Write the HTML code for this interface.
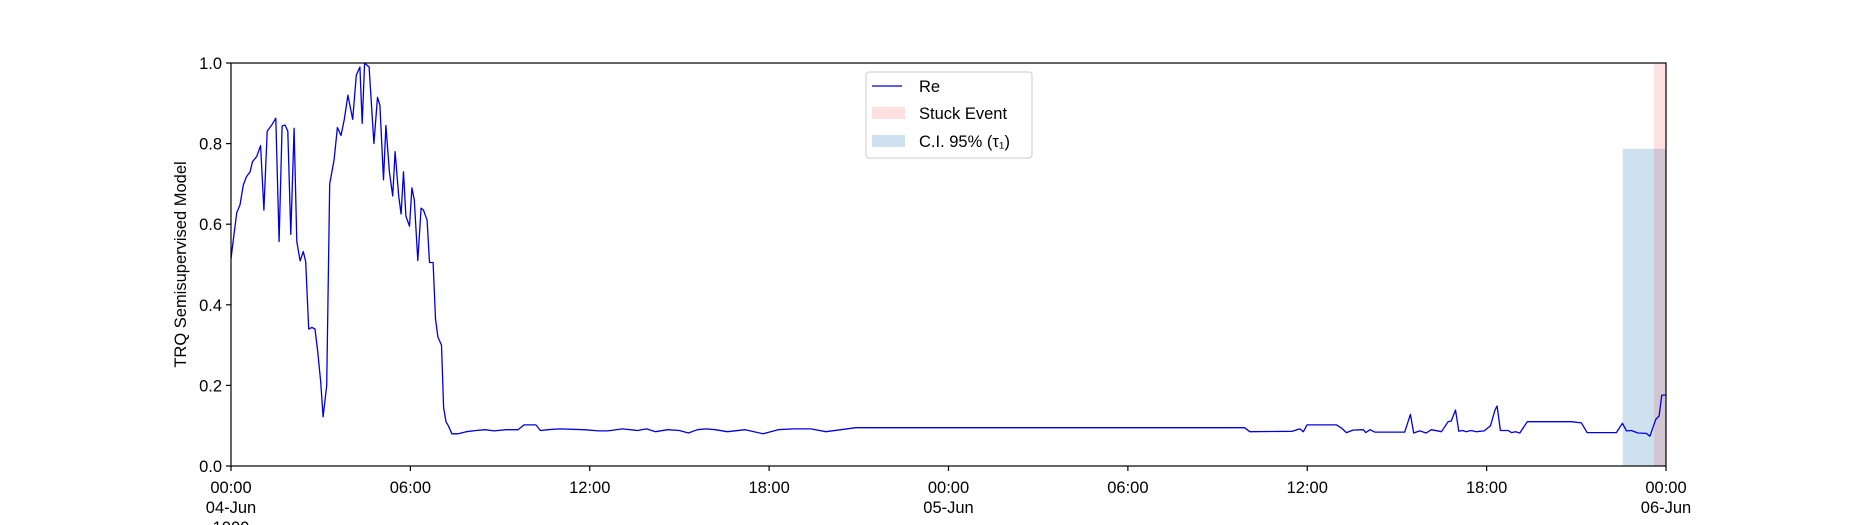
<!DOCTYPE html>
<html><head><meta charset="utf-8"><style>
html,body{margin:0;padding:0;background:#fff;width:1850px;height:525px;overflow:hidden}
svg{font-family:"Liberation Sans","DejaVu Sans",sans-serif}
</style></head><body>
<svg id="chart" width="1850" height="525" viewBox="0 0 1850 525" xmlns="http://www.w3.org/2000/svg"></svg>
<script>
const hours = [0,0.19,0.3,0.41,0.52,0.64,0.72,0.86,0.99,1.1,1.21,1.36,1.5,1.61,1.71,1.81,1.9,2.0,2.11,2.2,2.31,2.42,2.5,2.6,2.71,2.81,2.9,3.0,3.08,3.2,3.3,3.45,3.56,3.68,3.79,3.91,4.07,4.19,4.31,4.39,4.47,4.62,4.78,4.9,4.98,5.1,5.18,5.3,5.41,5.49,5.61,5.69,5.77,5.85,5.97,6.05,6.13,6.25,6.36,6.44,6.56,6.64,6.76,6.84,6.92,7.04,7.11,7.19,7.27,7.39,7.6,7.87,8.2,8.5,8.8,9.2,9.6,9.8,10.2,10.35,10.6,11.0,11.8,12.3,12.6,13.1,13.6,13.9,14.2,14.6,15.0,15.3,15.6,15.9,16.2,16.6,17.2,17.8,18.3,18.8,19.4,19.9,20.4,20.9,21.5,22.5,25,28,31,33.9,
34.08,35.5,35.75,35.87,35.99,36.98,37.15,37.31,37.53,37.87,37.96,38.1,38.26,39.26,39.45,39.56,39.76,39.98,40.15,40.49,40.71,40.82,40.96,41.07,41.2,41.31,41.48,41.65,41.92,42.13,42.28,42.35,42.46,42.72,42.83,42.97,43.11,43.36,44.84,45.17,45.36,46.34,46.54,46.68,46.84,47.06,47.34,47.46,47.66,47.77,47.86,48.0];
const values = [0.515,0.628,0.648,0.697,0.718,0.73,0.755,0.768,0.795,0.635,0.831,0.846,0.863,0.557,0.844,0.846,0.831,0.575,0.838,0.557,0.509,0.532,0.507,0.34,0.344,0.34,0.284,0.209,0.122,0.2,0.70,0.76,0.84,0.82,0.86,0.92,0.86,0.97,0.99,0.85,1.0,0.99,0.80,0.915,0.895,0.71,0.845,0.73,0.67,0.78,0.67,0.625,0.73,0.62,0.595,0.69,0.66,0.51,0.64,0.635,0.61,0.505,0.505,0.365,0.32,0.30,0.145,0.11,0.10,0.08,0.08,0.085,0.088,0.09,0.087,0.09,0.09,0.102,0.102,0.088,0.09,0.092,0.09,0.087,0.087,0.092,0.088,0.092,0.085,0.09,0.088,0.082,0.09,0.092,0.09,0.085,0.09,0.08,0.09,0.092,0.092,0.085,0.09,0.095,0.095,0.095,0.095,0.095,0.095,0.095,
0.085,0.086,0.092,0.085,0.102,0.102,0.094,0.083,0.089,0.090,0.083,0.090,0.084,0.084,0.128,0.082,0.087,0.082,0.09,0.085,0.11,0.112,0.139,0.086,0.088,0.085,0.088,0.085,0.087,0.10,0.139,0.149,0.088,0.088,0.083,0.085,0.082,0.11,0.11,0.107,0.083,0.083,0.106,0.087,0.088,0.082,0.081,0.074,0.116,0.124,0.176,0.176];
const xTickHours = [0,6,12,18,24,30,36,42,48];
const xTickLabels = ["00:00","06:00","12:00","18:00","00:00","06:00","12:00","18:00","00:00"];
const xTickSub = ["04-Jun","","","","05-Jun","","","","06-Jun"];
const yTicks = [0,0.2,0.4,0.6,0.8,1.0];
const ciRange = [46.55, 48];
const ciTop = 0.787;
const stuckRange = [47.6, 48];

const X0=231,X1=1666,Y0=466,Y1=63;
const xs=h=>X0+(h/48)*(X1-X0);
const ys=v=>Y0-v*(Y0-Y1);
const NS="http://www.w3.org/2000/svg";
const svg=document.getElementById('chart');
function mk(tag,attrs,parent){const e=document.createElementNS(NS,tag);for(const k in attrs)e.setAttribute(k,attrs[k]);(parent||svg).appendChild(e);return e;}

const ci=mk('rect',{x:xs(ciRange[0]),y:ys(ciTop),width:xs(ciRange[1])-xs(ciRange[0]),height:ys(0)-ys(ciTop),fill:'#1f77b4','fill-opacity':0.22});


const st=mk('rect',{x:xs(stuckRange[0]),y:ys(1),width:xs(stuckRange[1])-xs(stuckRange[0]),height:ys(0)-ys(1),fill:'#ff0000','fill-opacity':0.12});



const n=Math.min(hours.length,values.length);
const pts=[];for(let i=0;i<n;i++)pts.push(xs(hours[i]).toFixed(1)+','+ys(values[i]).toFixed(1));
const line=mk('polyline',{points:pts.join(' '),fill:'none',stroke:'#0000dd','stroke-width':1.3,'stroke-linejoin':'round'});



const frame=mk('rect',{x:X0,y:Y1,width:X1-X0,height:Y0-Y1,fill:'none',stroke:'#000','stroke-width':1.2});



yTicks.forEach(v=>{
  const t=mk('line',{x1:X0-5,x2:X0,y1:ys(v),y2:ys(v),stroke:'#000','stroke-width':1.2});
  
  
  const l=mk('text',{x:X0-9,y:ys(v)+6,'text-anchor':'end','font-size':16.5,fill:'#000'});
  l.textContent=v.toFixed(1);
  
  
});
xTickHours.forEach((h,i)=>{
  const t=mk('line',{x1:xs(h),x2:xs(h),y1:Y0,y2:Y0+5,stroke:'#000','stroke-width':1.2});
  
  
  const l=mk('text',{x:xs(h),y:Y0+27,'text-anchor':'middle','font-size':16.5,fill:'#000'});
  l.textContent=xTickLabels[i];
  
  
  if(xTickSub[i]){
    const s=mk('text',{x:xs(h),y:Y0+47,'text-anchor':'middle','font-size':16.5,fill:'#000'});
    s.textContent=xTickSub[i];
    
    
  }
});
const yr=mk('text',{x:xs(0),y:Y0+67,'text-anchor':'middle','font-size':16.5,fill:'#000'});
yr.textContent='1900';



const yl=mk('text',{x:0,y:0,'text-anchor':'middle','font-size':16.5,fill:'#000',transform:'translate(186,'+((Y0+Y1)/2)+') rotate(-90)'});
yl.textContent='TRQ Semisupervised Model';



const lg=mk('g',{});


mk('rect',{x:866,y:72,width:166,height:86,rx:3,fill:'#fff','fill-opacity':0.85,stroke:'#ccc'},lg);
const e1=mk('line',{x1:872,x2:902,y1:86,y2:86,stroke:'#0000dd','stroke-width':1.3},lg);


mk('rect',{x:872,y:107,width:33,height:12,fill:'#ff0000','fill-opacity':0.12},lg);
mk('rect',{x:872,y:135,width:33,height:12,fill:'#1f77b4','fill-opacity':0.22},lg);
[["Re",92],["Stuck Event",119],["C.I. 95% (τ₁)",147]].forEach(([t,y])=>{
  const tx=mk('text',{x:919,y:y,'font-size':16.5,fill:'#000'},lg);
  tx.textContent=t;
  
  
});
</script>
</body></html>
